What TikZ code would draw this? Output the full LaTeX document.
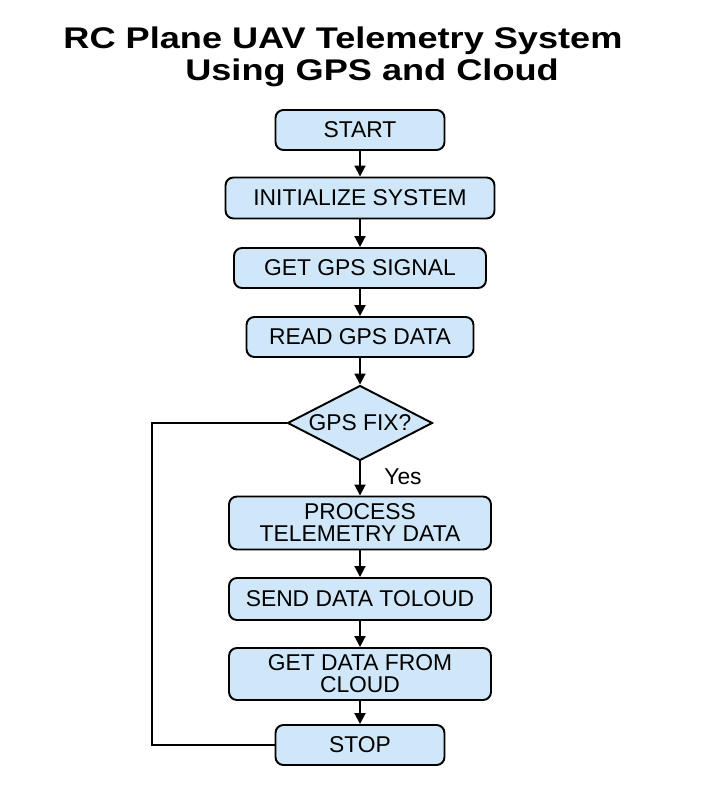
\documentclass[tikz,border=0pt]{standalone}
\usepackage{fontspec}
\setmainfont{Liberation Sans}
\usetikzlibrary{shapes.geometric,arrows.meta}

\definecolor{boxblue}{HTML}{CFE7F8}

\tikzset{
  box/.style={draw=black, fill=boxblue, line width=1.1pt, rounded corners=4.5pt,
    align=center, inner sep=0pt, font=\fontsize{13}{12.5}\selectfont},
  decision/.style={draw=black, fill=boxblue, line width=1.1pt, diamond,
    minimum width=2.9cm, minimum height=1.5cm, inner sep=0pt},
  flow/.style={-{Triangle[length=2.2mm,width=2.2mm]}, line width=1.1pt},
  heading/.style={font=\fontsize{17}{20}\bfseries},
}

\begin{document}
\begin{tikzpicture}[x=0.02cm,y=-0.02cm]
      \useasboundingbox (0,0) rectangle (724,786);
      % title
      \node[heading] (title1) at (343,41) {\scalebox{1.21}[1]{RC Plane UAV Telemetry System}};
      \node[heading] (title2) at (372,73) {\scalebox{1.21}[1]{Using GPS and Cloud}};
      % steps
      \node[box, minimum width=3.38cm, minimum height=0.8cm] (start) at (360,130) {START};
      \node[box, minimum width=5.38cm, minimum height=0.82cm] (init) at (360,198) {INITIALIZE SYSTEM};
      \node[box, minimum width=5.04cm, minimum height=0.8cm] (signal) at (360,268) {GET GPS SIGNAL};
      \node[box, minimum width=4.54cm, minimum height=0.8cm] (read) at (360,337) {READ GPS DATA};
      \node[decision, label={center:\fontsize{13}{14}\selectfont GPS FIX?}] (fix) at (360,423) {};
      \node[font=\fontsize{13}{14}\selectfont] (yes) at (403,477) {Yes};
      \node[box, minimum width=5.24cm, minimum height=1.06cm] (process) at (360,523) {PROCESS\\TELEMETRY DATA};
      \node[box, minimum width=5.24cm, minimum height=0.84cm] (send) at (360,599) {SEND DATA TOLOUD};
      \node[box, minimum width=5.24cm, minimum height=1.04cm] (getdata) at (360,674) {GET DATA FROM\\CLOUD};
      \node[box, minimum width=3.38cm, minimum height=0.8cm] (stop) at (360,745) {STOP};
      \coordinate (loop) at (152,423);
      \begin{scope}[flow]
        \draw (start) to (init);
        \draw (init) to (signal);
        \draw (signal) to (read);
        \draw (read) to (fix);
        \draw (fix) to (process);
        \draw (process) to (send);
        \draw (send) to (getdata);
        \draw (getdata) to (stop);
      \end{scope}
      % loop back, no arrow
      \draw[line width=1.1pt] (fix.west) -- (loop) |- (stop.west);
    \end{tikzpicture}
\end{document}
